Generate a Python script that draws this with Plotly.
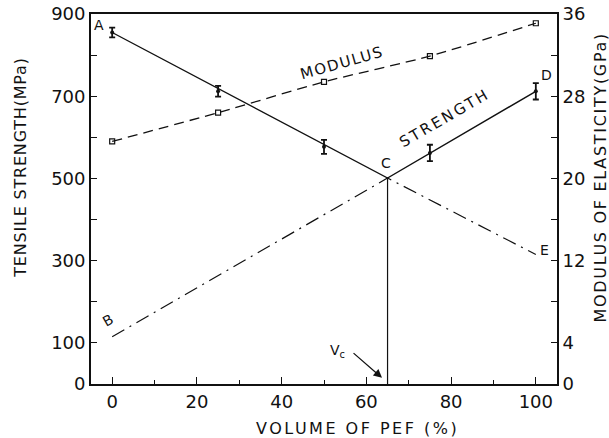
import plotly.graph_objects as go

# ---- data ----
pef_volume = [0, 25, 50, 75, 100]                 # % PEF
strength_measured = [855, 712, 577, 562, 712]      # MPa
strength_err = [12, 13, 17, 20, 20]                # MPa
modulus_measured = [23.6, 26.4, 29.4, 31.9, 35.1]  # GPa

strength_line_x = [0, 65, 100]          # A - C - D
strength_line_y = [855, 501, 712]
rule_line_x = [0, 65, 100]              # B - C - E
rule_line_y = [115, 501, 315]
vc_x = 65

x_tickvals = [0, 20, 40, 60, 80, 100]
x_ticktext = ["0", "20", "40", "60", "80", "100"]
x_minorvals = [10, 30, 50, 70, 90]
y_tickvals = [0, 100, 300, 500, 700, 900]
y_ticktext = ["0", "100", "300", "500", "700", "900"]
y_minorvals = [200, 400, 600, 800]
y2_tickvals = [0, 4, 12, 20, 28, 36]
y2_ticktext = ["0", "4", "12", "20", "28", "36"]
y2_minorvals = [8, 16, 24, 32]

FONT = "DejaVu Sans, sans-serif"
BLACK = "#111111"

fig = go.Figure()

fig.add_trace(go.Scatter(x=strength_line_x, y=strength_line_y, mode="lines",
                         line=dict(color=BLACK, width=1.4), showlegend=False))
fig.add_trace(go.Scatter(x=rule_line_x, y=rule_line_y, mode="lines",
                         line=dict(color=BLACK, width=1.2, dash="14px,6px,2px,6px"),
                         showlegend=False))
fig.add_trace(go.Scatter(x=[vc_x, vc_x], y=[0, strength_line_y[1]], mode="lines",
                         line=dict(color=BLACK, width=1.2), showlegend=False))
fig.add_trace(go.Scatter(x=pef_volume, y=strength_measured, mode="markers",
                         marker=dict(color=BLACK, size=4),
                         error_y=dict(type="data", array=strength_err, color=BLACK,
                                      thickness=1.8, width=3),
                         showlegend=False))
fig.add_trace(go.Scatter(x=pef_volume, y=modulus_measured, mode="lines+markers",
                         yaxis="y2", line=dict(color=BLACK, width=1.3, dash="10px,6px",
                                               shape="spline", smoothing=0.6),
                         marker=dict(symbol="square-open", size=5, color=BLACK,
                                     line=dict(width=1.2, color=BLACK)),
                         showlegend=False))

tickfont = dict(family=FONT, size=18, color=BLACK)
common = dict(ticks="inside", tickwidth=1.2, tickcolor=BLACK, showline=True,
              linecolor=BLACK, linewidth=1.8, showgrid=False, zeroline=False,
              tickfont=tickfont, automargin=False)
fig.update_layout(
    width=609, height=438,
    margin=dict(l=91, r=52, t=14, b=54),
    paper_bgcolor="white", plot_bgcolor="white",
    xaxis=dict(range=[-5, 105], tickvals=x_tickvals, ticktext=x_ticktext, ticklen=7,
               mirror=True,
               minor=dict(tickvals=x_minorvals, ticks="inside", ticklen=4,
                          tickcolor=BLACK, tickwidth=1.2, showgrid=False),
               **common),
    yaxis=dict(range=[0, 900], tickvals=y_tickvals, ticktext=y_ticktext, ticklen=6,
               minor=dict(tickvals=y_minorvals, ticks="inside", ticklen=6,
                          tickcolor=BLACK, tickwidth=1.2, showgrid=False),
               **common),
    yaxis2=dict(range=[0, 36], tickvals=y2_tickvals, ticktext=y2_ticktext, ticklen=6,
                overlaying="y", side="right",
                minor=dict(tickvals=y2_minorvals, ticks="inside", ticklen=6,
                           tickcolor=BLACK, tickwidth=1.2, showgrid=False),
                **common),
)

def spaced(text, px):
    return f'<span style="letter-spacing:{px}px">{text}</span>'

def note(x, y, text, angle=0, size=14):
    fig.add_annotation(x=x, y=y, xref="x", yref="y", text=text, showarrow=False,
                       textangle=angle, xanchor="center", yanchor="middle",
                       font=dict(family=FONT, size=size, color=BLACK))

note(-3.1, 873, "A")
note(-0.9, 156, "B", angle=-30)
note(64.6, 537, "C")
note(102.6, 751, "D")
note(102.1, 326, "E")
note(54.2, 781, spaced("MODULUS", 1.5), angle=-16, size=15)
note(78.5, 647, spaced("STRENGTH", 2.5), angle=-30, size=15)
note(53.1, 80, "V<sub>c</sub>")

fig.add_annotation(x=63.7, y=15, xref="x", yref="y", ax=-30, ay=-26,
                   axref="pixel", ayref="pixel", text="", showarrow=True,
                   arrowhead=2, arrowsize=1.3, arrowwidth=1.3, arrowcolor=BLACK)

def title(x, y, text, angle, size, ls):
    fig.add_annotation(x=x, y=y, xref="paper", yref="paper", text=spaced(text, ls),
                       showarrow=False, textangle=angle, xanchor="center",
                       yanchor="middle", font=dict(family=FONT, size=size, color=BLACK))

title(-0.152, 0.585, "TENSILE STRENGTH(MPa)", -90, 16, 0.8)
title(1.094, 0.56, "MODULUS OF ELASTICITY(GPa)", -90, 16, 1.7)
title(0.571, -0.119, "VOLUME OF PEF (%)", 0, 16, 2.5)

fig.write_html("out.html", config={"displayModeBar": False},
               post_script="document.body.style.margin='0';document.body.style.overflow='hidden';")
